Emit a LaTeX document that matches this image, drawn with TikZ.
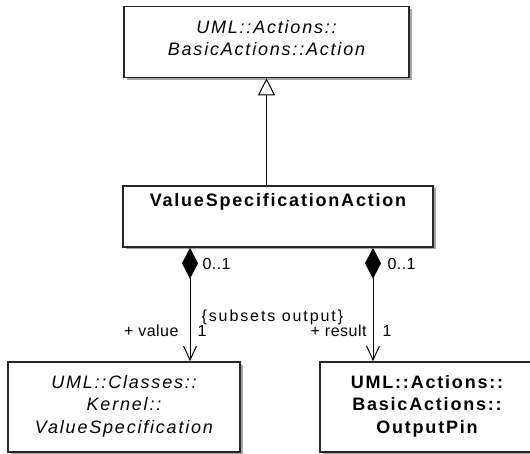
\documentclass[tikz,border=0pt]{standalone}
\usepackage{fontspec}
\setmainfont{Liberation Sans}
\newfontfamily\clsfont[LetterSpace=10]{Liberation Sans}
\newfontfamily\lblfont[LetterSpace=3]{Liberation Sans}
\usetikzlibrary{arrows.meta, positioning, shadows}

\begin{document}
\begin{tikzpicture}[
    x=1pt, y=-1pt,
    cls/.style={draw=black!85, line width=1.6pt, fill=white, inner sep=0pt,
        drop shadow={shadow xshift=2.5pt, shadow yshift=-2.5pt, fill=black!35, opacity=1}},
    nm/.style={anchor=north, align=center, inner sep=0pt,
        font=\clsfont#1\fontsize{18}{22.5}\selectfont},
    nm/.default=\relax,
    lbl/.style={inner sep=0pt, font=\lblfont\fontsize{16}{19}\selectfont},
    gen/.style={line width=1pt, -{Triangle[open, length=17pt, width=17pt, fill=white]}},
    comp/.style={line width=1pt, {Diamond[length=31pt, width=16pt]}-{Straight Barb[length=14pt, width=13pt]}}
]
\path[use as bounding box, clip] (0,0) rectangle (530,454);
% class boxes, name set near the top of each box
\node[cls, minimum width=285pt, minimum height=71pt] (act) at (266.5,42) {};
\node[nm=\itshape] (actname) at ([yshift=-14.5pt]act.north) {UML::Actions::\\BasicActions::Action};
\node[cls, minimum width=310pt, minimum height=61pt] (vsa) at (278,216.5) {};
\node[nm=\bfseries] (vsaname) at ([yshift=-8pt]vsa.north) {ValueSpecificationAction};
\node[cls, minimum width=232pt, minimum height=90pt] (vs) at (124,407) {};
\node[nm=\itshape] (vsname) at ([yshift=-14pt]vs.north) {UML::Classes::\\Kernel::\\ValueSpecification};
\node[cls, minimum width=214pt, minimum height=90pt] (pin) at (427,407) {};
\node[nm=\bfseries] (pinname) at ([yshift=-14pt]pin.north) {UML::Actions::\\BasicActions::\\OutputPin};
% x positions of the two compositions
\coordinate (lx) at (190,0);
\coordinate (rx) at (373,0);
% generalization
\draw[gen] (vsa.north -| act.south) -- (act.south);
% compositions with their ends
\draw[comp] (vsa.south -| lx) -- (vs.north -| lx)
    node[lbl, pos=0.19, anchor=base west, xshift=12pt] (lmult) {0..1}
    node[lbl, pos=0.65, anchor=base west, xshift=11pt] (subsets) {\addfontfeature{LetterSpace=12}\{subsets output\}}
    node[lbl, pos=0.78, anchor=base east, xshift=-11pt] (value) {+ value}
    node[lbl, pos=0.78, anchor=base west, xshift=7pt] (lone) {1};
\draw[comp] (vsa.south -| rx) -- (pin.north -| rx)
    node[lbl, pos=0.19, anchor=base west, xshift=14pt] (rmult) {0..1}
    node[lbl, pos=0.78, anchor=base east, xshift=-6pt] (result) {+ result}
    node[lbl, pos=0.78, anchor=base west, xshift=9pt] (rone) {1};
\end{tikzpicture}
\end{document}
